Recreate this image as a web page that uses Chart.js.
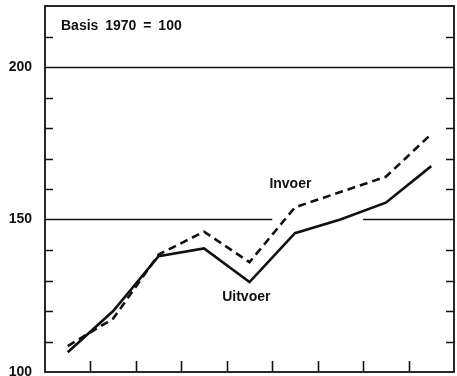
<!DOCTYPE html>
<html>
<head>
<meta charset="utf-8">
<script src="https://cdn.jsdelivr.net/npm/chart.js@4/dist/chart.umd.min.js"></script>
<style>
  html, body { margin: 0; padding: 0; background: #fff; }
</style>
</head>
<body>
<canvas id="chart" width="457" height="376"></canvas>
<script>
// index figures, basis 1970 = 100
const years = ['1971', '1972', '1973', '1974', '1975', '1976', '1977', '1978', '1979'];
const invoer = [108.5, 117.5, 138.5, 146, 136, 154, 159, 164, 178];
const uitvoer = [106.5, 120, 138, 140.5, 129.5, 145.5, 150, 155.5, 167.5];
const yTickLabels = [100, 150, 200];
const basisText = 'Basis 1970 = 100';

// horizontal rules; the 150 rule is left open between two category boundaries
const rules = [
  { value: 150, gapFrom: 4.5, gapTo: 6.5 },
  { value: 200 }
];

// series names written next to the lines (category index, value)
const seriesNotes = [
  { text: 'Invoer', at: 4.9, value: 161.5 },
  { text: 'Uitvoer', at: 3.93, value: 124.5 }
];

const ink = '#111';
const font = '"Liberation Sans", Arial, Helvetica, sans-serif';

const framePlugin = {
  id: 'frame',
  beforeDatasetsDraw(chart) {
    const { ctx, chartArea: a, scales: { x, y } } = chart;
    const step = x.getPixelForValue(1) - x.getPixelForValue(0);
    const xAt = i => x.getPixelForValue(0) + i * step;
    ctx.save();
    ctx.strokeStyle = ink;
    ctx.lineWidth = 1.6;
    rules.forEach(r => {
      const py = Math.round(y.getPixelForValue(r.value)) + 0.5;
      ctx.beginPath();
      if (r.gapFrom !== undefined) {
        ctx.moveTo(a.left, py); ctx.lineTo(xAt(r.gapFrom), py);
        ctx.moveTo(xAt(r.gapTo), py); ctx.lineTo(a.right, py);
      } else {
        ctx.moveTo(a.left, py); ctx.lineTo(a.right, py);
      }
      ctx.stroke();
    });
    ctx.restore();
  },
  afterDraw(chart) {
    const { ctx, chartArea: a, scales: { x, y } } = chart;
    ctx.save();
    ctx.strokeStyle = ink;
    ctx.lineWidth = 1.8;
    ctx.strokeRect(a.left, a.top, a.right - a.left, a.bottom - a.top);

    // inward ticks every 10 on both sides, skipped where a rule runs
    ctx.lineWidth = 1.6;
    for (let v = 110; v < 220; v += 10) {
      if (rules.some(r => r.value === v)) continue;
      const py = Math.round(y.getPixelForValue(v)) + 0.5;
      ctx.beginPath();
      ctx.moveTo(a.left, py); ctx.lineTo(a.left + 8, py);
      ctx.moveTo(a.right, py); ctx.lineTo(a.right - 8, py);
      ctx.stroke();
    }
    // year boundaries on the bottom edge
    for (let i = 1; i < years.length; i++) {
      const px = Math.round((x.getPixelForValue(i - 1) + x.getPixelForValue(i)) / 2) + 0.5;
      ctx.beginPath();
      ctx.moveTo(px, a.bottom); ctx.lineTo(px, a.bottom - 11);
      ctx.stroke();
    }

    ctx.fillStyle = ink;
    ctx.font = 'bold 14px ' + font;
    ctx.textBaseline = 'middle';
    ctx.textAlign = 'left';
    if ('wordSpacing' in ctx) ctx.wordSpacing = '3px';
    ctx.fillText(basisText, a.left + 16, a.top + 20);
    if ('wordSpacing' in ctx) ctx.wordSpacing = '0px';

    ctx.textAlign = 'center';
    const step = x.getPixelForValue(1) - x.getPixelForValue(0);
    seriesNotes.forEach(n => {
      const px = x.getPixelForValue(0) + n.at * step;
      ctx.fillText(n.text, px, y.getPixelForValue(n.value));
    });
    ctx.restore();
  }
};

new Chart(document.getElementById('chart'), {
  type: 'line',
  data: {
    labels: years,
    datasets: [{
      label: 'Invoer',
      data: invoer,
      borderColor: ink,
      borderWidth: 2.6,
      borderDash: [8, 5],
      pointRadius: 0,
      tension: 0,
      fill: false
    }, {
      label: 'Uitvoer',
      data: uitvoer,
      borderColor: ink,
      borderWidth: 2.6,
      pointRadius: 0,
      tension: 0,
      fill: false
    }]
  },
  options: {
    responsive: false,
    animation: false,
    devicePixelRatio: 1,
    layout: { padding: { top: 6, right: 3, bottom: 4, left: 0 } },
    plugins: {
      legend: { display: false },
      tooltip: { enabled: false }
    },
    scales: {
      x: {
        type: 'category',
        offset: true,
        display: false
      },
      y: {
        min: 100,
        max: 220,
        afterFit(scale) {
          scale.width = 45;
          // let the bottom label run off the canvas edge instead of shrinking the plot
          scale.paddingTop = 0;
          scale.paddingBottom = 0;
        },
        grid: { display: false, drawTicks: false },
        border: { display: false },
        ticks: {
          stepSize: 10,
          padding: 13,
          color: ink,
          font: { family: font, size: 14, weight: 'bold' },
          callback: v => yTickLabels.includes(v) ? String(v) : ''
        }
      }
    }
  },
  plugins: [framePlugin]
});
</script>
</body>
</html>
